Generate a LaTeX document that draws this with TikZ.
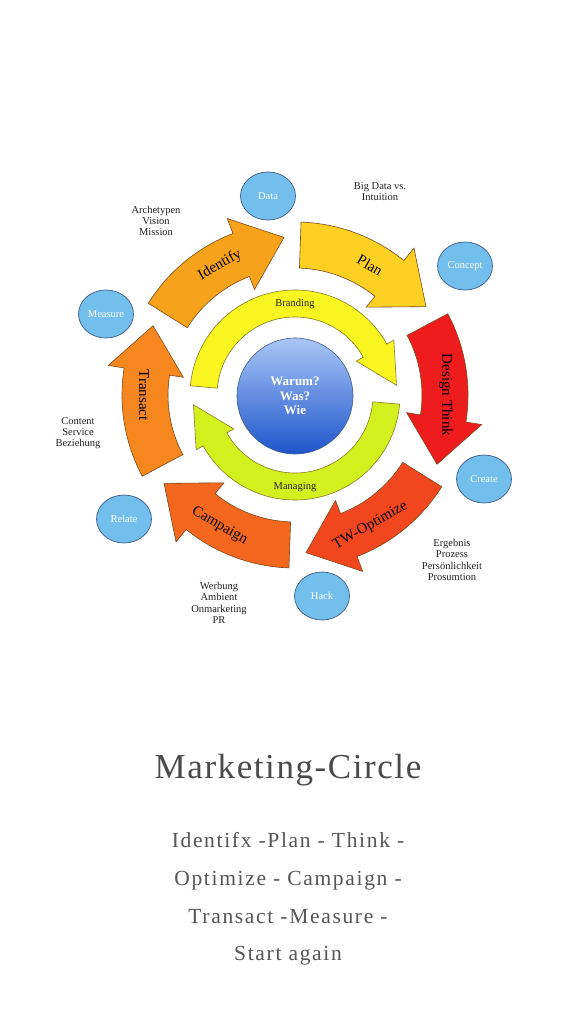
\documentclass[tikz,border=0pt]{standalone}
\usepackage{fontspec}
\setmainfont{Liberation Serif}
\newfontfamily\titlefont[LetterSpace=4.5]{Liberation Serif}
\newfontfamily\subfont[LetterSpace=7.8]{Liberation Serif}
\usetikzlibrary{shapes.geometric}
\definecolor{cIdentify}{HTML}{F7A21B}
\definecolor{cPlan}{HTML}{FDD022}
\definecolor{cDesign}{HTML}{EE1C1C}
\definecolor{cOptim}{HTML}{F2471E}
\definecolor{cCamp}{HTML}{F4671E}
\definecolor{cTrans}{HTML}{F6871F}
\definecolor{cBrand}{HTML}{F8F520}
\definecolor{cManage}{HTML}{D2F01E}
\definecolor{arrEdge}{HTML}{7A4A1A}
\definecolor{ringEdge}{HTML}{8A7A2A}
\definecolor{bubFill}{HTML}{72BEEC}
\definecolor{bubEdge}{HTML}{3F5C88}
\definecolor{coreTop}{HTML}{A9C6F5}
\definecolor{coreBot}{HTML}{1E55CC}
\definecolor{labText}{HTML}{222222}
\definecolor{titleGray}{HTML}{4A4A4A}
\definecolor{subGray}{HTML}{555555}
\newcommand{\outerarrow}[2]{%
  \draw[outarrow, fill=#2] ({#1}:173pt) arc[start angle={#1}, end angle={#1-37}, radius=173pt]
    -- ({#1-37}:189pt) -- ({#1-54}:158pt) -- ({#1-37}:113pt) -- ({#1-37}:127pt)
    arc[start angle={#1-37}, end angle={#1}, radius=127pt] -- cycle;}
\newcommand{\innerarrow}[2]{%
  \draw[innerarr, fill=#2] ({#1}:105pt) arc[start angle={#1}, end angle={#1-146}, radius=105pt]
    -- ({#1-146}:113pt) -- ({#1-169.5}:102pt) -- ({#1-146}:70pt) -- ({#1-146}:78pt)
    arc[start angle={#1-146}, end angle={#1}, radius=78pt] -- cycle;}
\tikzset{
  outarrow/.style={draw=arrEdge, line width=0.6pt, line join=miter},
  innerarr/.style={draw=ringEdge, line width=0.6pt, line join=miter},
  arrlabel/.style={font=\fontsize{15}{17}\selectfont, text=black, inner sep=0pt},
  ringlabel/.style={font=\fontsize{10.5}{12}\selectfont, text=labText, inner sep=0pt},
  bubble/.style={ellipse, draw=bubEdge, line width=0.7pt, fill=bubFill, minimum width=55pt,
    minimum height=48pt, inner sep=0pt, text=white, font=\fontsize{10.5}{12}\selectfont},
  note/.style={align=center, text=labText, inner sep=0pt, font=\fontsize{10.5}{11.3}\selectfont},
  subline/.style={anchor=base, text=subGray, inner sep=0pt, font=\subfont\fontsize{21.5}{24}\selectfont}
}
\begin{document}
\begin{tikzpicture}[x=1pt, y=1pt]
\useasboundingbox (0,0) rectangle (576,-1024);
\fill[white] (0,0) rectangle (576,-1024);
\begin{scope}[shift={(295,-395)}]
  \outerarrow{148}{cIdentify}
  \outerarrow{88}{cPlan}
  \outerarrow{28}{cDesign}
  \outerarrow{-32}{cOptim}
  \outerarrow{-92}{cCamp}
  \outerarrow{-152}{cTrans}
  \innerarrow{175}{cBrand}
  \innerarrow{-5}{cManage}
  \node[arrlabel, rotate=30] (lidentify) at (120:150pt) {Identify};
  \node[arrlabel, rotate=-30] (lplan) at (60:150pt) {Plan};
  \node[arrlabel, rotate=-90] (ldesign) at (0:151pt) {Design Think};
  \node[arrlabel, rotate=30] (loptim) at (-60:151pt) {TW-Optimize};
  \node[arrlabel, rotate=-30] (lcamp) at (-120:151pt) {Campaign};
  \node[arrlabel, rotate=-90] (ltrans) at (180:151pt) {Transact};
  \node[ringlabel] (lbrand) at (90:91pt) {Branding};
  \node[ringlabel] (lmanage) at (-90:92pt) {Managing};
  \node[circle, draw=bubEdge, line width=0.6pt, minimum size=116pt, top color=coreTop,
    bottom color=coreBot, text=white, align=center, inner sep=0pt,
    font=\bfseries\fontsize{13}{14.5}\selectfont] (core) at (0,-1) {Warum?\\Was?\\Wie};
\end{scope}
\node[bubble] (data) at (268,-196) {Data};
\node[bubble] (concept) at (465,-266) {Concept};
\node[bubble] (create) at (484,-479) {Create};
\node[bubble] (hack) at (322,-596) {Hack};
\node[bubble] (relate) at (124,-519) {Relate};
\node[bubble] (measure) at (106,-314) {Measure};
\node[note] (narch) at (156,-221) {Archetypen\\Vision\\Mission};
\node[note] (nbig) at (380,-191.5) {Big Data vs.\\Intuition};
\node[note] (ncontent) at (78,-433) {Content\\Service\\Beziehung};
\node[note] (nergeb) at (452,-560) {Ergebnis\\Prozess\\Persönlichkeit\\Prosumtion};
\node[note] (nwerb) at (219,-603) {Werbung\\Ambient\\Onmarketing\\PR};
\node[anchor=base, text=titleGray, inner sep=0pt, font=\titlefont\fontsize{35}{40}\selectfont] (title) at (288,-778) {Marketing-Circle};
\node[subline] (sub1) at (288,-847) {Identifx -Plan - Think -};
\node[subline] (sub2) at (288,-885) {Optimize - Campaign -};
\node[subline] (sub3) at (288,-923) {Transact -Measure -};
\node[subline] (sub4) at (288,-960) {Start again};
\end{tikzpicture}
\end{document}
